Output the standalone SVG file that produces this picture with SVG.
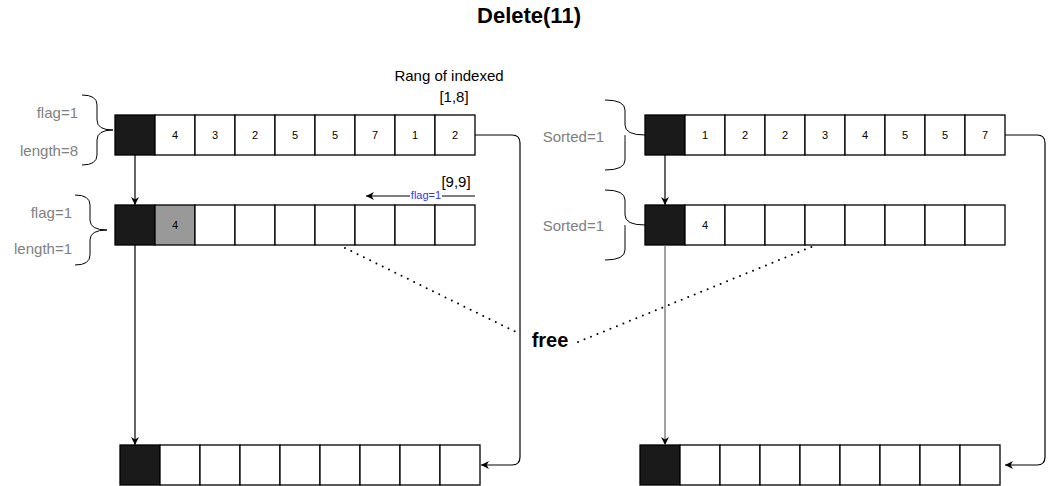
<svg xmlns="http://www.w3.org/2000/svg" width="1055" height="486" viewBox="0 0 1055 486">
<style>
.cell{fill:#fff;stroke:#000;stroke-width:1.3}
.blk{fill:#1a1a1a;stroke:#000;stroke-width:1.3}
.gry{fill:#999;stroke:#000;stroke-width:1.3}
.num{font-family:"Liberation Sans",Arial,sans-serif;font-size:11px;fill:#000;text-anchor:middle}
.lbl{font-family:"Liberation Sans",Arial,sans-serif;font-size:15px;fill:#808080;text-anchor:end}
.txt{font-family:"Liberation Sans",Arial,sans-serif;font-size:15px;fill:#000}
.brace{fill:none;stroke:#000;stroke-width:1}
.conn{fill:none;stroke:#000;stroke-width:1.2}
.dot{fill:none;stroke:#000;stroke-width:2;stroke-dasharray:0 7;stroke-linecap:round}
</style>
<defs>
<marker id="arr" viewBox="0 0 10 10" refX="10" refY="5" markerWidth="8" markerHeight="8" markerUnits="userSpaceOnUse" orient="auto">
<path d="M0,0 L10,5 L0,10 L3,5 Z" fill="#000"/>
</marker>
</defs>
<rect width="1055" height="486" fill="#fff"/>
<text x="529" y="23" font-family="Liberation Sans,Arial,sans-serif" font-size="22" font-weight="bold" text-anchor="middle">Delete(11)</text>

<g id="left-top-labels">
<text class="lbl" x="78" y="118">flag=1</text>
<text class="lbl" x="78" y="156">length=8</text>
<path class="brace" d="M82,95 Q97,95 97,105 L97,120 Q97,130 113,130 Q97,130 97,140 L97,155 Q97,165 82,165"/>
</g>
<g id="left-row1">
<rect class="blk" x="115" y="115" width="40" height="40"/>
<rect class="cell" x="155" y="115" width="40" height="40"/>
<rect class="cell" x="195" y="115" width="40" height="40"/>
<rect class="cell" x="235" y="115" width="40" height="40"/>
<rect class="cell" x="275" y="115" width="40" height="40"/>
<rect class="cell" x="315" y="115" width="40" height="40"/>
<rect class="cell" x="355" y="115" width="40" height="40"/>
<rect class="cell" x="395" y="115" width="40" height="40"/>
<rect class="cell" x="435" y="115" width="40" height="40"/>
<text class="num" x="175" y="139">4</text>
<text class="num" x="215" y="139">3</text>
<text class="num" x="255" y="139">2</text>
<text class="num" x="295" y="139">5</text>
<text class="num" x="335" y="139">5</text>
<text class="num" x="375" y="139">7</text>
<text class="num" x="415" y="139">1</text>
<text class="num" x="455" y="139">2</text>
</g>
<g id="range-label">
<text class="txt" x="449" y="81" text-anchor="middle">Rang of indexed</text>
<text class="txt" x="454" y="102" text-anchor="middle">[1,8]</text>
<text class="txt" x="456" y="187" text-anchor="middle">[9,9]</text>
</g>

<g id="left-mid-labels">
<text class="lbl" x="72" y="218">flag=1</text>
<text class="lbl" x="72" y="254">length=1</text>
<path class="brace" d="M75,195 Q90,195 90,205 L90,220 Q90,230 107,230 Q90,230 90,240 L90,255 Q90,265 75,265"/>
</g>
<g id="left-row2">
<rect class="blk" x="115" y="205" width="40" height="40"/>
<rect class="gry" x="155" y="205" width="40" height="40"/>
<rect class="cell" x="195" y="205" width="40" height="40"/>
<rect class="cell" x="235" y="205" width="40" height="40"/>
<rect class="cell" x="275" y="205" width="40" height="40"/>
<rect class="cell" x="315" y="205" width="40" height="40"/>
<rect class="cell" x="355" y="205" width="40" height="40"/>
<rect class="cell" x="395" y="205" width="40" height="40"/>
<rect class="cell" x="435" y="205" width="40" height="40"/>
<text class="num" x="175" y="229">4</text>
</g>

<g id="left-row3">
<rect class="blk" x="120" y="445" width="40" height="40"/>
<rect class="cell" x="160" y="445" width="40" height="40"/>
<rect class="cell" x="200" y="445" width="40" height="40"/>
<rect class="cell" x="240" y="445" width="40" height="40"/>
<rect class="cell" x="280" y="445" width="40" height="40"/>
<rect class="cell" x="320" y="445" width="40" height="40"/>
<rect class="cell" x="360" y="445" width="40" height="40"/>
<rect class="cell" x="400" y="445" width="40" height="40"/>
<rect class="cell" x="440" y="445" width="40" height="40"/>
</g>

<g id="right-top-labels">
<text class="lbl" x="604" y="142">Sorted=1</text>
<path class="brace" d="M605,100 Q625,100 625,110 L625,125 Q625,135 645,135 M625,135 Q625,135 625,145 L625,160 Q625,170 605,170"/>
</g>
<g id="right-row1">
<rect class="blk" x="645" y="115" width="40" height="40"/>
<rect class="cell" x="685" y="115" width="40" height="40"/>
<rect class="cell" x="725" y="115" width="40" height="40"/>
<rect class="cell" x="765" y="115" width="40" height="40"/>
<rect class="cell" x="805" y="115" width="40" height="40"/>
<rect class="cell" x="845" y="115" width="40" height="40"/>
<rect class="cell" x="885" y="115" width="40" height="40"/>
<rect class="cell" x="925" y="115" width="40" height="40"/>
<rect class="cell" x="965" y="115" width="40" height="40"/>
<text class="num" x="705" y="139">1</text>
<text class="num" x="745" y="139">2</text>
<text class="num" x="785" y="139">2</text>
<text class="num" x="825" y="139">3</text>
<text class="num" x="865" y="139">4</text>
<text class="num" x="905" y="139">5</text>
<text class="num" x="945" y="139">5</text>
<text class="num" x="985" y="139">7</text>
</g>

<g id="right-mid-labels">
<text class="lbl" x="604" y="231">Sorted=1</text>
<path class="brace" d="M605,190 Q625,190 625,200 L625,215 Q625,225 645,225 M625,225 Q625,225 625,235 L625,250 Q625,260 605,260"/>
</g>
<g id="right-row2">
<rect class="blk" x="645" y="205" width="40" height="40"/>
<rect class="cell" x="685" y="205" width="40" height="40"/>
<rect class="cell" x="725" y="205" width="40" height="40"/>
<rect class="cell" x="765" y="205" width="40" height="40"/>
<rect class="cell" x="805" y="205" width="40" height="40"/>
<rect class="cell" x="845" y="205" width="40" height="40"/>
<rect class="cell" x="885" y="205" width="40" height="40"/>
<rect class="cell" x="925" y="205" width="40" height="40"/>
<rect class="cell" x="965" y="205" width="40" height="40"/>
<text class="num" x="705" y="229">4</text>
</g>

<g id="right-row3">
<rect class="blk" x="640" y="445" width="40" height="40"/>
<rect class="cell" x="680" y="445" width="40" height="40"/>
<rect class="cell" x="720" y="445" width="40" height="40"/>
<rect class="cell" x="760" y="445" width="40" height="40"/>
<rect class="cell" x="800" y="445" width="40" height="40"/>
<rect class="cell" x="840" y="445" width="40" height="40"/>
<rect class="cell" x="880" y="445" width="40" height="40"/>
<rect class="cell" x="920" y="445" width="40" height="40"/>
<rect class="cell" x="960" y="445" width="40" height="40"/>
</g>

<g id="free-node">
<text x="550" y="347" font-family="Liberation Sans,Arial,sans-serif" font-size="20" font-weight="bold" text-anchor="middle">free</text>
</g>

<g id="connectors">
<path class="conn" d="M135,155 L135,205" marker-end="url(#arr)"/>
<path class="conn" d="M135,245 L135,445" marker-end="url(#arr)"/>
<path class="conn" d="M475,135 L512,135 Q520,135 520,143 L520,457 Q520,465 512,465 L481,465" marker-end="url(#arr)"/>
<path class="conn" d="M665,155 L665,205" marker-end="url(#arr)"/>
<path class="conn" d="M665,245 L665,445" style="stroke:#666" marker-end="url(#arr)"/>
<path class="conn" d="M1005,135 L1037,135 Q1045,135 1045,143 L1045,457 Q1045,465 1037,465 L1005,465" marker-end="url(#arr)"/>
<path class="conn" d="M475,196 L366,196" marker-end="url(#arr)"/>
<rect x="410" y="189" width="32" height="13" fill="#fff"/>
<text x="426" y="199" font-family="Liberation Sans,Arial,sans-serif" font-size="11" fill="#3333ff" text-anchor="middle">flag=1</text>
<path class="dot" d="M345,248 L520,334"/>
<path class="dot" d="M578,342 L816,245"/>
</g>
</svg>
